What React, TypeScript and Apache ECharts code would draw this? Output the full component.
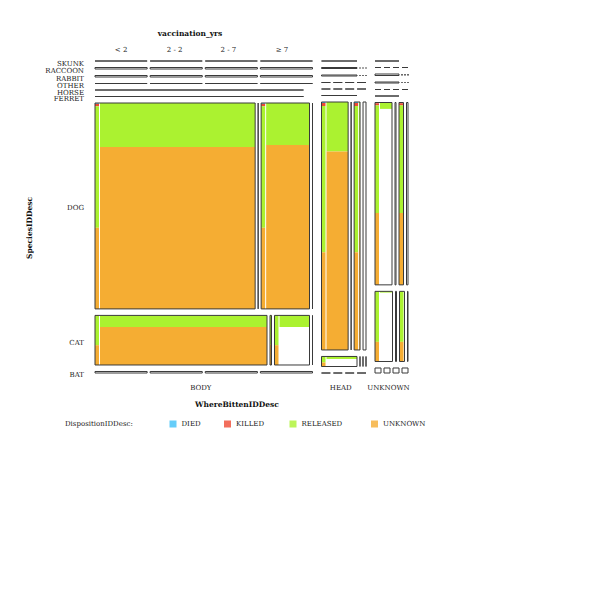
import React, { useEffect, useRef } from 'react';
import * as echarts from 'echarts';

// mosaic: WhereBittenIDDesc x SpeciesIDDesc x vaccination_yrs, filled by DispositionIDDesc
const WHERE = ['BODY', 'HEAD', 'UNKNOWN'];
const WHERE_WEIGHTS = [217.5, 44.5, 33];
const SPECIES = ['SKUNK', 'RACCOON', 'RABBIT', 'OTHER', 'HORSE', 'FERRET', 'DOG', 'CAT', 'BAT'];
const VACC = ['< 2', '2 - 2', '2 - 7', '≥ 7'];
const DISPOSITION = ['DIED', 'KILLED', 'RELEASED', 'UNKNOWN'];
const DISPOSITION_COLORS = ['#3ec0f7', '#ef4a33', '#abf230', '#f5ad33'];

// species heights inside each WhereBitten column
const ROWS_BODY = [0, 1.5, 1.5, 0, 0, 0, 205.5, 49.5, 1.5];
const ROWS_HEAD = [0, 1, 1, 0, 0, 0, 247, 10, 0];
const ROWS_UNKNOWN = [0, 0, 1.5, 1, 0, 0, 182, 70, 5];

// vaccination_yrs widths per species (all zero -> equal split)
const VACC_BODY = [[1, 1, 1, 1], [1, 1, 1, 1], [1, 1, 1, 1], [1, 1, 1, 1], [1, 0, 0, 0], [1, 0, 0, 0], [159, 0, 48, 0], [172, 1.5, 35, 0], [1, 1, 1, 1]];
const VACC_HEAD = [[1, 0, 0, 0], [1, 0, 0, 0], [1, 0, 0, 0], [1, 1, 1, 1], [1, 1, 1, 1], [1, 0, 0, 0], [27, 0, 6, 3], [34, 0, 0, 0], [1, 1, 1, 1]];
const VACC_UNKNOWN = [[1, 0, 0, 0], [1, 1, 1, 1], [1, 0, 0, 0], [1, 0, 0, 0], [1, 1, 1, 1], [1, 0, 0, 0], [17, 1, 4.5, 1.5], [17.5, 1, 5, 0.5], [1, 1, 1, 1]];

// cells with a disposition fill: [where, species, vaccination]
const FILLED = [
  ['BODY', 'DOG', '< 2'],
  ['BODY', 'DOG', '2 - 7'],
  ['BODY', 'CAT', '< 2'],
  ['BODY', 'CAT', '2 - 2'],
  ['BODY', 'CAT', '2 - 7'],
  ['HEAD', 'DOG', '< 2'],
  ['HEAD', 'DOG', '2 - 7'],
  ['HEAD', 'CAT', '< 2'],
  ['UNKNOWN', 'DOG', '< 2'],
  ['UNKNOWN', 'DOG', '2 - 7'],
  ['UNKNOWN', 'CAT', '< 2'],
  ['UNKNOWN', 'CAT', '2 - 7'],
];
// shares top to bottom: DIED, KILLED, RELEASED, UNKNOWN, none
const STRIP_MIX = [
  [0.004, 0.012, 0.59, 0.394, 0],
  [0.004, 0.012, 0.59, 0.394, 0],
  [0, 0.01, 0.59, 0.4, 0],
  [0, 0, 0.59, 0.41, 0],
  [0, 0, 0.6, 0.4, 0],
  [0.004, 0.012, 0.59, 0.394, 0],
  [0.004, 0.012, 0.59, 0.394, 0],
  [0, 0, 0.6, 0.4, 0],
  [0.004, 0.012, 0.59, 0.394, 0],
  [0.004, 0.012, 0.59, 0.394, 0],
  [0, 0, 0.72, 0.28, 0],
  [0, 0, 0.72, 0.28, 0],
];
const MAIN_MIX = [
  [0, 0, 0.214, 0.786, 0],
  [0, 0, 0.204, 0.796, 0],
  [0, 0, 0.235, 0.765, 0],
  [0, 0, 0, 0, 1],
  [0, 0, 0.235, 0, 0.765],
  [0, 0, 0.2, 0.8, 0],
  [0, 0, 0.21, 0.79, 0],
  [0, 0, 0.25, 0, 0.75],
  [0, 0, 0.035, 0, 0.965],
  [0, 0, 0.035, 0, 0.965],
  [0, 0, 0.02, 0, 0.98],
  [0, 0, 0.02, 0, 0.98],
];

const MX0 = 95;
const MX1 = 408;
const MY0 = 61;
const MY1 = 373;
const COL_GAP = 9;
const ROW_GAP = 6.5;
const VACC_GAP = 3;
const STRIP_W = 4;
const STRIP_GAP = 1;
const LEGEND_LEFT = [169.5, 224, 289.5, 371];
const FONT = '"DejaVu Serif", serif';

const split = (start: number, total: number, weights: number[], gap: number) => {
  const sum = weights.reduce((a, b) => a + b, 0);
  const w = sum > 0 ? weights : weights.map(() => 1);
  const s = sum > 0 ? sum : weights.length;
  const avail = total - gap * (weights.length - 1);
  let pos = start;
  return w.map((v) => {
    const a = pos;
    const b = pos + (avail * v) / s;
    pos = b + gap;
    return [a, b];
  });
};

const buildMosaic = () => {
  const rowsByWhere = [ROWS_BODY, ROWS_HEAD, ROWS_UNKNOWN];
  const vaccByWhere = [VACC_BODY, VACC_HEAD, VACC_UNKNOWN];
  const fills: number[][] = [];
  const outlines: number[][] = [];
  const stack = (x0: number, x1: number, y0: number, y1: number, mix: number[]) => {
    let y = y0;
    mix.forEach((share, i) => {
      const h = (y1 - y0) * share;
      if (h > 0) fills.push([x0, y, x1, y + h, i, 0]);
      y += h;
    });
  };
  const cols = split(MX0, MX1 - MX0, WHERE_WEIGHTS, COL_GAP);
  cols.forEach(([cx0, cx1], wi) => {
    const rows = split(MY0, MY1 - MY0, rowsByWhere[wi], ROW_GAP);
    rows.forEach(([y0, y1], si) => {
      const cells = split(cx0, cx1 - cx0, vaccByWhere[wi][si], VACC_GAP);
      cells.forEach(([x0, x1], vi) => {
        const k = FILLED.findIndex((f) => f[0] === WHERE[wi] && f[1] === SPECIES[si] && f[2] === VACC[vi]);
        if (k >= 0 && x1 > x0 && y1 > y0) {
          const sx1 = Math.min(x1, x0 + STRIP_W);
          stack(x0, sx1, y0, y1, STRIP_MIX[k]);
          if (x1 - sx1 > STRIP_GAP) stack(sx1 + STRIP_GAP, x1, y0, y1, MAIN_MIX[k]);
          outlines.push([x0, y0, x1, y1, -1, 1]);
        } else {
          outlines.push([x0, y0, x1, y1, 4, 1]);
        }
      });
    });
  });
  return { cols, data: [...fills, ...outlines] };
};

const App: React.FC = () => {
  const chartRef = useRef<HTMLDivElement>(null);

  useEffect(() => {
    if (!chartRef.current) return;
    const chart = echarts.init(chartRef.current, undefined, { renderer: 'svg' });
    const { cols, data } = buildMosaic();

    const bodyRows = split(MY0, MY1 - MY0, ROWS_BODY, ROW_GAP);
    const [bx0, bx1] = cols[0];
    const vaccStep = (bx1 - bx0 - VACC_GAP * 3) / 4;

    const texts: any[] = [
      { type: 'text', x: 190, y: 33, style: { text: 'vaccination_yrs', fontFamily: FONT, fontSize: 7.5, fontWeight: 'bold', fill: '#111', align: 'center', verticalAlign: 'middle' } },
      { type: 'text', x: 29, y: 228, rotation: Math.PI / 2, style: { text: 'SpeciesIDDesc', fontFamily: FONT, fontSize: 7.5, fontWeight: 'bold', fill: '#111', align: 'center', verticalAlign: 'middle' } },
      { type: 'text', x: 237, y: 404, style: { text: 'WhereBittenIDDesc', fontFamily: FONT, fontSize: 7.5, fontWeight: 'bold', fill: '#111', align: 'center', verticalAlign: 'middle' } },
      { type: 'text', x: 65, y: 424, style: { text: 'DispositionIDDesc:', fontFamily: FONT, fontSize: 7, fill: '#222', align: 'left', verticalAlign: 'middle' } },
      ...VACC.map((v, i) => ({
        type: 'text', x: bx0 + vaccStep * (i + 0.5) + VACC_GAP * i * 0.5, y: 50,
        style: { text: v, fontFamily: FONT, fontSize: 7, fill: '#222', align: 'center', verticalAlign: 'middle' },
      })),
      ...SPECIES.map((s, i) => ({
        type: 'text', x: 84, y: (bodyRows[i][0] + bodyRows[i][1]) / 2 + 2.5,
        style: { text: s, fontFamily: FONT, fontSize: 7, fill: '#222', align: 'right', verticalAlign: 'middle' },
      })),
      ...WHERE.map((w, i) => ({
        type: 'text', x: (cols[i][0] + cols[i][1]) / 2 - 3, y: 387.5,
        style: { text: w, fontFamily: FONT, fontSize: 7, fill: '#222', align: 'center', verticalAlign: 'middle' },
      })),
    ];

    chart.setOption({
      animation: false,
      backgroundColor: '#fff',
      grid: { left: 0, right: 0, top: 0, bottom: 0 },
      xAxis: { type: 'value', min: 0, max: 600, show: false },
      yAxis: { type: 'value', min: 0, max: 600, inverse: true, show: false },
      legend: DISPOSITION.map((name, i) => ({
        data: [name],
        left: LEGEND_LEFT[i],
        top: 420.5,
        padding: 0,
        icon: 'rect',
        itemWidth: 7,
        itemHeight: 7,
        selectedMode: false,
        textStyle: { fontFamily: FONT, fontSize: 7, color: '#222' },
      })),
      graphic: texts,
      series: [
        {
          type: 'custom',
          name: 'mosaic',
          clip: false,
          data,
          encode: { x: [0, 2], y: [1, 3] },
          renderItem: (_params: any, api: any) => {
            const p0 = api.coord([api.value(0), api.value(1)]);
            const p1 = api.coord([api.value(2), api.value(3)]);
            const fill = api.value(4);
            const line = api.value(5);
            return {
              type: 'rect',
              shape: { x: p0[0], y: p0[1], width: p1[0] - p0[0], height: p1[1] - p0[1] },
              style: {
                fill: fill < 0 ? 'none' : fill === 4 ? '#fff' : DISPOSITION_COLORS[fill],
                stroke: line ? '#3a3a3a' : 'none',
                lineWidth: line ? 1 : 0,
              },
            };
          },
        },
        ...DISPOSITION.map((name, i) => ({
          type: 'scatter',
          name,
          data: [],
          itemStyle: { color: DISPOSITION_COLORS[i] },
        })),
      ],
    });

    return () => {
      chart.dispose();
    };
  }, []);

  return (
    <div
      ref={chartRef}
      style={{ position: 'absolute', left: 0, top: 0, width: 600, height: 600, background: '#fff' }}
    />
  );
};

export default App;
